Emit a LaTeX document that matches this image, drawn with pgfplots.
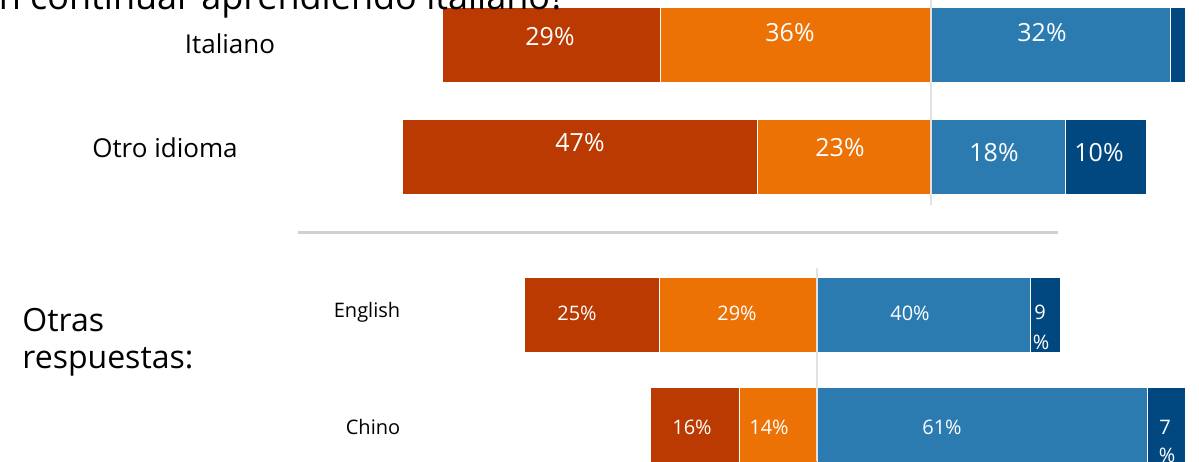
\documentclass[border=0pt]{standalone}
\usepackage{pgfplots}
\pgfplotsset{compat=1.18}
\usepackage{fontspec}
\setmainfont{Open Sans}
\definecolor{cRed}{HTML}{BA3A02}
\definecolor{cOrange}{HTML}{EC7206}
\definecolor{cBlue}{HTML}{2C7BB0}
\definecolor{cDark}{HTML}{024880}
\definecolor{cLine}{HTML}{E2E2E2}
\definecolor{cSep}{HTML}{D0D0D0}
\newcommand{\fs}[1]{\fontsize{#1}{#1}\selectfont}
\begin{document}
\begin{tikzpicture}
\clip (0,0) rectangle (599.5pt,-230.5pt);
\pgfplotsset{
  base/.style={scale only axis, width=599.5pt, height=230.5pt, at={(0,0)},
    anchor=north west, ymin=0, ymax=461, y dir=reverse, hide axis, clip=false},
  seg/.style={draw=white, line width=0.4pt, fill=#1},
  top/.style={base, xmin=-124, xmax=35.8667, xbar stacked, bar width=75},
  bot/.style={base, xmin=-150.738, xmax=70.480, xbar stacked, bar width=75},
}
% ---- top chart, negative side (Italiano y=45, Otro idioma y=157)
\begin{axis}[top]
\addplot[seg=cOrange] coordinates {(-36,45) (-23,157)};
\addplot[seg=cRed] coordinates {(-29,45) (-47.4,157)};
\end{axis}
% ---- top chart, positive side
\begin{axis}[top]
\addplot[seg=cBlue] coordinates {(32,45) (18,157)};
\addplot[seg=cDark] coordinates {(2,45) (10.8,157)};
\end{axis}
% ---- bottom chart, negative side (English y=315, Chino y=425)
\begin{axis}[bot]
\addplot[seg=cOrange] coordinates {(-29,315) (-14.4,425)};
\addplot[seg=cRed] coordinates {(-25,315) (-16.4,425)};
\end{axis}
% ---- bottom chart, positive side
\begin{axis}[bot]
\addplot[seg=cBlue] coordinates {(39.4,315) (61,425)};
\addplot[seg=cDark] coordinates {(5.5,315) (7,425)};
\end{axis}
% ---- overlay in pixel coordinates: lines and text
\begin{axis}[base, xmin=0, xmax=1199]
\addplot[draw=none] coordinates {(0,0)};
\draw[cLine, line width=1pt] (axis cs:930.5,0) -- (axis cs:930.5,205);
\draw[cLine, line width=1pt] (axis cs:816.5,268) -- (axis cs:816.5,461);
\draw[cSep, line width=1.5pt] (axis cs:298,232) -- (axis cs:1058,232);
\node[anchor=base east, inner sep=0, font=\fs{18}] at (axis cs:566,9) {en continuar aprendiendo italiano?};
\node[inner sep=0, font=\fs{13}] at (axis cs:230,44) {Italiano};
\node[inner sep=0, font=\fs{13}] at (axis cs:165,148) {Otro idioma};
\node[anchor=west, inner sep=0, font=\fs{16}] at (axis cs:22,320) {Otras};
\node[anchor=west, inner sep=0, font=\fs{16}] at (axis cs:22,362) {respuestas:};
\node[inner sep=0, font=\fs{10}] at (axis cs:367,312) {English};
\node[inner sep=0, font=\fs{10}] at (axis cs:373,427) {Chino};
\begin{scope}[every node/.style={inner sep=0, text=white, font=\fs{12.5}}]
\node at (axis cs:550,37) {29\%};
\node at (axis cs:790,33) {36\%};
\node at (axis cs:1042,33) {32\%};
\node at (axis cs:580,143) {47\%};
\node at (axis cs:840,148) {23\%};
\node at (axis cs:994,153) {18\%};
\node at (axis cs:1099,153) {10\%};
\end{scope}
\begin{scope}[every node/.style={inner sep=0, text=white, font=\fs{10}}]
\node at (axis cs:577,313) {25\%};
\node at (axis cs:737,313) {29\%};
\node at (axis cs:910,313) {40\%};
\node at (axis cs:1040,312) {9};
\node at (axis cs:1041,342) {\%};
\node at (axis cs:692,427) {16\%};
\node at (axis cs:769,427) {14\%};
\node at (axis cs:942,427) {61\%};
\node at (axis cs:1165,427) {7};
\node at (axis cs:1167,455) {\%};
\end{scope}
\end{axis}
\end{tikzpicture}
\end{document}
